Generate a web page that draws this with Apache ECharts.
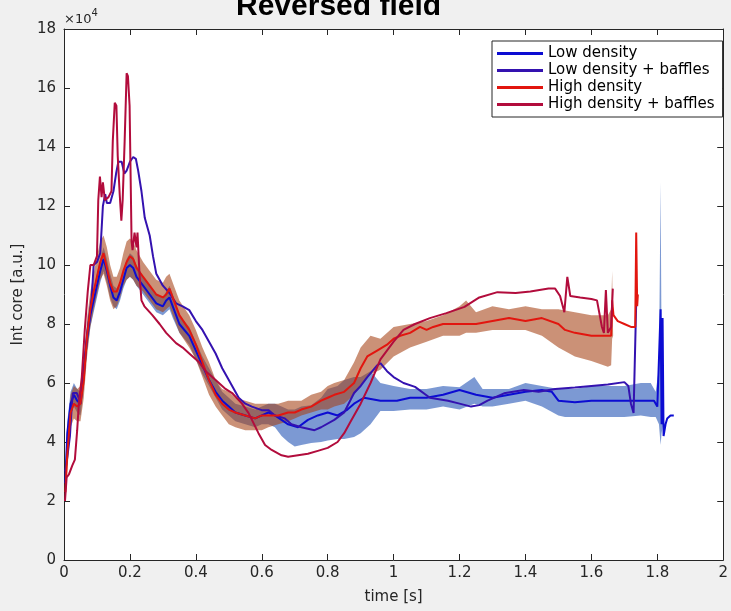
<!DOCTYPE html>
<html>
<head>
<meta charset="utf-8">
<script src="https://cdn.jsdelivr.net/npm/echarts@6/dist/echarts.min.js"></script>
<style>
html,body{margin:0;padding:0;background:#f0f0f0;}
#chart{width:731px;height:611px;}
</style>
</head>
<body>
<div id="chart"></div>
<script>
// values in units of 1e4
var xTicks = [0, 0.2, 0.4, 0.6, 0.8, 1, 1.2, 1.4, 1.6, 1.8, 2];
var yTicks = [0, 2, 4, 6, 8, 10, 12, 14, 16, 18];

// Low density (mean)
var tLow = [0.004,0.01,0.02,0.03,0.04,0.05,0.06,0.07,0.08,0.09,0.1,0.11,0.12,0.13,0.14,0.15,0.16,0.17,0.18,0.19,0.2,0.21,0.22,0.24,0.26,0.28,0.3,0.31,0.32,0.33,0.35,0.38,0.4,0.42,0.44,0.46,0.48,0.5,0.52,0.55,0.58,0.6,0.62,0.64,0.66,0.68,0.71,0.74,0.77,0.8,0.83,0.86,0.88,0.91,0.96,1.01,1.05,1.1,1.15,1.2,1.25,1.3,1.35,1.4,1.45,1.48,1.5,1.55,1.6,1.65,1.7,1.75,1.79,1.8,1.805,1.81,1.813,1.816,1.819,1.825,1.83,1.84,1.85];
var low = [2.6,4.3,5.3,5.6,5.4,5.3,6.3,7.5,8.3,8.8,9.3,9.8,10.2,9.8,9.3,8.9,8.8,9.1,9.5,9.9,10.0,9.9,9.6,9.3,9.0,8.7,8.6,8.8,8.9,8.6,8.0,7.6,7.1,6.6,6.1,5.7,5.4,5.2,5.0,4.9,4.8,4.9,5.0,4.9,4.75,4.6,4.5,4.75,4.9,5.0,4.9,5.1,5.3,5.5,5.4,5.4,5.5,5.5,5.6,5.76,5.6,5.5,5.6,5.7,5.76,5.7,5.4,5.35,5.4,5.4,5.4,5.4,5.4,5.2,6.8,8.5,4.6,8.2,4.2,4.6,4.8,4.9,4.9];

// Low density band (mean +/- spread)
var tLowBand = [0.004,0.01,0.02,0.03,0.04,0.05,0.06,0.07,0.08,0.09,0.1,0.11,0.12,0.13,0.14,0.15,0.16,0.17,0.18,0.19,0.2,0.21,0.22,0.24,0.26,0.28,0.3,0.32,0.33,0.35,0.38,0.4,0.42,0.45,0.48,0.5,0.52,0.55,0.58,0.6,0.62,0.64,0.66,0.68,0.7,0.72,0.75,0.78,0.8,0.83,0.85,0.88,0.9,0.93,0.96,1.0,1.05,1.1,1.15,1.2,1.245,1.27,1.3,1.35,1.4,1.45,1.5,1.52,1.55,1.6,1.65,1.7,1.75,1.78,1.795,1.805,1.81,1.813,1.816,1.82];
var lowBandLo = [2.4,3.9,4.9,5.2,5.0,4.9,5.8,7.1,7.9,8.4,8.9,9.4,9.8,9.4,8.9,8.6,8.5,8.8,9.2,9.5,9.6,9.5,9.3,9.0,8.7,8.4,8.3,8.5,8.2,7.7,7.3,6.8,6.3,5.7,5.1,4.9,4.7,4.6,4.5,4.6,4.6,4.5,4.2,4.0,3.85,3.9,3.97,4.0,4.05,4.1,4.1,4.17,4.3,4.6,5.05,5.05,5.1,5.1,5.2,5.1,5.3,5.2,5.2,5.3,5.4,5.2,4.9,4.85,4.85,4.85,4.85,4.85,4.9,4.85,4.85,4.6,3.9,4.3,4.5,4.8];
var lowBandHi = [3.2,4.7,5.7,6.0,5.8,5.7,6.8,7.9,8.7,9.2,9.7,10.2,10.6,10.2,9.7,9.3,9.2,9.4,9.8,10.2,10.4,10.3,10.0,9.6,9.3,9.0,8.9,9.3,9.0,8.3,7.9,7.4,6.9,6.3,5.7,5.5,5.3,5.2,5.1,5.2,5.3,5.3,5.2,5.1,5.1,5.2,5.25,5.5,5.8,5.9,6.1,6.2,6.2,6.4,6.0,5.9,5.8,5.8,5.9,5.86,6.2,5.8,5.8,5.8,6.0,5.9,5.8,5.8,5.8,5.9,5.9,5.9,6.0,6.0,5.7,6.5,12.8,7.0,5.5,5.0];

// Low density + baffles
var tLowBaf = [0.004,0.01,0.018,0.024,0.027,0.039,0.048,0.057,0.069,0.084,0.09,0.1,0.11,0.118,0.125,0.13,0.14,0.15,0.158,0.165,0.175,0.183,0.19,0.2,0.21,0.218,0.225,0.235,0.245,0.26,0.27,0.28,0.29,0.3,0.32,0.34,0.36,0.38,0.4,0.42,0.44,0.46,0.48,0.5,0.53,0.55,0.57,0.6,0.62,0.64,0.67,0.69,0.72,0.76,0.78,0.82,0.85,0.88,0.9,0.92,0.95,0.96,0.98,1.0,1.03,1.065,1.11,1.165,1.2,1.235,1.26,1.285,1.335,1.395,1.44,1.49,1.55,1.6,1.65,1.7,1.712,1.72,1.728,1.734,1.737];
var lowBaf = [3.0,3.5,4.2,5.3,5.66,5.66,5.4,6.2,7.56,8.9,10.0,10.1,10.4,12.0,12.4,12.1,12.1,12.5,13.1,13.5,13.5,13.1,13.2,13.5,13.66,13.6,13.2,12.5,11.6,11.0,10.3,9.7,9.5,9.3,9.05,8.7,8.6,8.47,8.1,7.8,7.4,7.0,6.5,6.1,5.5,5.3,5.2,5.08,5.08,4.9,4.8,4.6,4.5,4.4,4.5,4.75,5.0,5.66,5.9,6.2,6.6,6.67,6.4,6.2,6.0,5.87,5.5,5.4,5.3,5.2,5.25,5.4,5.65,5.76,5.7,5.8,5.85,5.9,5.95,6.03,5.9,5.3,4.98,5.0,9.2];

// High density (mean)
var tHigh = [0.004,0.01,0.02,0.03,0.04,0.05,0.06,0.07,0.08,0.09,0.1,0.11,0.12,0.13,0.14,0.15,0.16,0.17,0.18,0.19,0.2,0.21,0.22,0.24,0.26,0.28,0.3,0.31,0.32,0.33,0.35,0.38,0.4,0.42,0.44,0.46,0.48,0.5,0.52,0.55,0.58,0.6,0.62,0.65,0.68,0.7,0.72,0.75,0.78,0.8,0.82,0.85,0.88,0.9,0.92,0.95,0.98,1.0,1.02,1.05,1.08,1.1,1.12,1.15,1.2,1.25,1.3,1.35,1.4,1.45,1.5,1.52,1.55,1.6,1.64,1.66,1.663,1.667,1.68,1.7,1.72,1.733,1.736,1.739,1.741];
var high = [2.3,3.6,5.0,5.3,5.2,5.3,6.1,7.6,8.5,9.1,9.6,10.1,10.4,9.9,9.4,9.1,9.1,9.4,9.8,10.1,10.3,10.2,9.9,9.6,9.3,9.0,8.9,9.0,9.2,8.9,8.3,7.8,7.3,6.7,6.1,5.6,5.3,5.1,5.0,4.9,4.8,4.9,4.9,4.9,5.0,5.0,5.1,5.2,5.4,5.5,5.6,5.7,6.0,6.5,6.9,7.1,7.3,7.5,7.6,7.7,7.9,7.8,7.9,8.0,8.0,8.0,8.1,8.2,8.1,8.2,8.0,7.8,7.7,7.6,7.6,7.6,8.8,8.3,8.1,8.0,7.9,7.9,11.1,8.6,9.0];

// High density band
var tHighBand = [0.004,0.01,0.02,0.03,0.04,0.05,0.06,0.07,0.08,0.09,0.1,0.11,0.12,0.13,0.14,0.15,0.16,0.17,0.18,0.19,0.2,0.21,0.22,0.24,0.26,0.28,0.3,0.31,0.32,0.33,0.35,0.38,0.4,0.42,0.44,0.46,0.48,0.5,0.52,0.55,0.58,0.6,0.62,0.65,0.68,0.7,0.72,0.75,0.78,0.8,0.82,0.85,0.88,0.9,0.93,0.96,1.0,1.05,1.1,1.15,1.2,1.22,1.25,1.3,1.35,1.4,1.45,1.5,1.55,1.6,1.65,1.66,1.663,1.666];
var highBandLo = [2.0,3.0,4.5,4.8,4.7,4.7,5.5,6.9,7.9,8.5,9.0,9.5,9.7,9.3,8.8,8.5,8.6,8.9,9.3,9.5,9.6,9.5,9.3,9.1,8.8,8.5,8.4,8.5,8.6,8.3,7.7,7.2,6.8,6.2,5.6,5.2,4.9,4.6,4.5,4.4,4.4,4.4,4.5,4.6,4.7,4.8,4.9,5.0,5.1,5.1,5.2,5.3,5.6,5.9,6.3,6.45,6.9,7.2,7.4,7.6,7.6,7.7,7.7,7.8,7.8,7.8,7.6,7.2,6.9,6.75,6.55,6.6,7.5,7.6];
var highBandHi = [2.8,4.2,5.6,5.9,5.8,5.9,6.7,8.2,9.1,9.7,10.3,10.8,11.0,10.6,10.0,9.6,9.6,9.9,10.4,10.8,10.9,10.8,10.5,10.1,9.8,9.5,9.4,9.6,9.7,9.4,8.8,8.3,7.8,7.2,6.7,6.1,5.8,5.7,5.5,5.4,5.3,5.3,5.3,5.3,5.4,5.4,5.4,5.6,5.7,5.9,6.0,6.1,6.7,7.2,7.6,7.5,7.9,8.0,8.1,8.3,8.6,8.8,8.4,8.6,8.5,8.6,8.5,8.5,8.4,8.3,8.3,8.5,9.8,7.6];

// High density + baffles
var tHighBaf = [0.003,0.008,0.015,0.025,0.033,0.04,0.045,0.054,0.063,0.072,0.08,0.09,0.1,0.104,0.109,0.114,0.118,0.124,0.135,0.144,0.148,0.154,0.159,0.163,0.169,0.174,0.178,0.184,0.19,0.194,0.199,0.202,0.205,0.208,0.214,0.22,0.223,0.229,0.235,0.244,0.268,0.29,0.31,0.34,0.36,0.38,0.41,0.43,0.46,0.49,0.51,0.54,0.56,0.59,0.61,0.63,0.66,0.68,0.71,0.74,0.77,0.8,0.83,0.85,0.87,0.9,0.93,0.96,1.0,1.03,1.065,1.11,1.16,1.215,1.26,1.315,1.37,1.415,1.47,1.49,1.505,1.518,1.527,1.536,1.566,1.6,1.617,1.632,1.638,1.644,1.65,1.66,1.665];
var highBaf = [2.0,2.8,2.9,3.2,3.4,4.4,5.3,6.2,7.8,9.1,10.0,10.0,10.3,12.2,13.0,12.3,12.8,12.2,12.3,12.5,14.2,15.5,15.4,13.7,12.4,11.5,12.2,14.2,16.5,16.4,15.4,13.1,10.8,10.5,11.1,10.6,11.1,9.7,8.8,8.6,8.3,8.0,7.7,7.35,7.2,7.0,6.7,6.4,6.1,5.8,5.66,5.3,4.98,4.3,3.9,3.73,3.55,3.5,3.55,3.6,3.7,3.8,4.0,4.3,4.7,5.3,6.0,6.8,7.4,7.8,8.0,8.2,8.37,8.58,8.9,9.08,9.05,9.1,9.2,9.2,8.95,8.4,9.6,8.95,8.9,8.85,8.8,7.9,7.7,9.15,7.7,7.9,9.2];

var names = ['Low density', 'Low density + baffles', 'High density', 'High density + baffles'];
var colors = ['#0c0cd2', '#3412b0', '#e2160f', '#b20c3c'];

function pairs(t, v) {
    return t.map(function (x, i) { return [x, v[i]]; });
}

function band(t, lo, hi, fill) {
    return {
        type: 'custom',
        silent: true,
        z: 1,
        clip: true,
        data: t.map(function (x, i) { return [x, lo[i], hi[i]]; }),
        encode: { x: 0, y: [1, 2] },
        renderItem: function (params, api) {
            if (params.dataIndex !== 0) return;
            var pts = [];
            for (var i = 0; i < t.length; i++) pts.push(api.coord([t[i], hi[i]]));
            for (var j = t.length - 1; j >= 0; j--) pts.push(api.coord([t[j], lo[j]]));
            return {
                type: 'polygon',
                shape: { points: pts },
                style: { fill: fill, stroke: null }
            };
        }
    };
}

function line(name, t, v, color) {
    return {
        name: name,
        type: 'line',
        data: pairs(t, v),
        showSymbol: false,
        symbol: 'none',
        z: 3,
        lineStyle: { width: 2, color: color },
        itemStyle: { color: color }
    };
}

var axisColor = '#262626';
var font = 'DejaVu Sans';

var myechart = echarts.init(document.getElementById('chart'));
myechart.setOption({
    animation: false,
    backgroundColor: '#f0f0f0',
    textStyle: { fontFamily: font },
    grid: { left: 64, top: 29, width: 663, height: 531, show: true, backgroundColor: '#fff', borderWidth: 0 },
    graphic: [
        {
            type: 'text', left: 236, top: -8,
            style: { text: 'Reversed field', font: 'bold 30px "Liberation Sans", Arial', fill: '#000' }
        },
        {
            type: 'text', left: 64, top: 8,
            style: {
                text: '{a|×10}{b|4}',
                rich: {
                    a: { fontSize: 13, fontFamily: font, fill: '#262626', verticalAlign: 'bottom' },
                    b: { fontSize: 10, fontFamily: font, fill: '#262626', verticalAlign: 'top', padding: [0, 0, 8, 0] }
                }
            }
        }
    ],
    legend: {
        data: names,
        orient: 'vertical',
        left: 492,
        top: 41,
        padding: [4, 8, 4, 5],
        itemGap: 0,
        itemWidth: 46,
        itemHeight: 3,
        icon: 'rect',
        backgroundColor: '#fff',
        borderColor: '#262626',
        borderWidth: 1,
        borderRadius: 0,
        textStyle: { fontSize: 15, lineHeight: 17, color: '#000', fontFamily: font }
    },
    xAxis: [
        {
            type: 'value', min: 0, max: 2, interval: 0.2,
            name: 'time [s]', nameLocation: 'middle', nameGap: 30,
            nameTextStyle: { fontSize: 15, color: axisColor, fontFamily: font },
            axisLine: { onZero: false, lineStyle: { color: axisColor, width: 1 } },
            axisTick: { inside: true, length: 6, lineStyle: { color: axisColor } },
            axisLabel: { fontSize: 15, color: axisColor, margin: 6, fontFamily: font,
                formatter: function (v) { return String(Math.round(v * 10) / 10); } },
            splitLine: { show: false }
        },
        {
            type: 'value', min: 0, max: 2, interval: 0.2, position: 'top',
            axisLine: { onZero: false, lineStyle: { color: axisColor, width: 1 } },
            axisTick: { inside: true, length: 6, lineStyle: { color: axisColor } },
            axisLabel: { show: false },
            splitLine: { show: false }
        }
    ],
    yAxis: [
        {
            type: 'value', min: 0, max: 18, interval: 2,
            name: 'Int core [a.u.]', nameLocation: 'middle', nameGap: 30, nameRotate: 90,
            nameTextStyle: { fontSize: 15, color: axisColor, fontFamily: font },
            axisLine: { show: true, onZero: false, lineStyle: { color: axisColor, width: 1 } },
            axisTick: { show: true, inside: true, length: 6, lineStyle: { color: axisColor } },
            axisLabel: { fontSize: 15, color: axisColor, margin: 8, fontFamily: font },
            splitLine: { show: false }
        },
        {
            type: 'value', min: 0, max: 18, interval: 2, position: 'right',
            axisLine: { show: true, onZero: false, lineStyle: { color: axisColor, width: 1 } },
            axisTick: { show: true, inside: true, length: 6, lineStyle: { color: axisColor } },
            axisLabel: { show: false },
            splitLine: { show: false }
        }
    ],
    series: [
        band(tLowBand, lowBandLo, lowBandHi, 'rgba(30,80,180,0.58)'),
        band(tHighBand, highBandLo, highBandHi, 'rgba(165,65,20,0.58)'),
        line(names[0], tLow, low, colors[0]),
        line(names[1], tLowBaf, lowBaf, colors[1]),
        line(names[2], tHigh, high, colors[2]),
        line(names[3], tHighBaf, highBaf, colors[3])
    ]
});
</script>
</body>
</html>
